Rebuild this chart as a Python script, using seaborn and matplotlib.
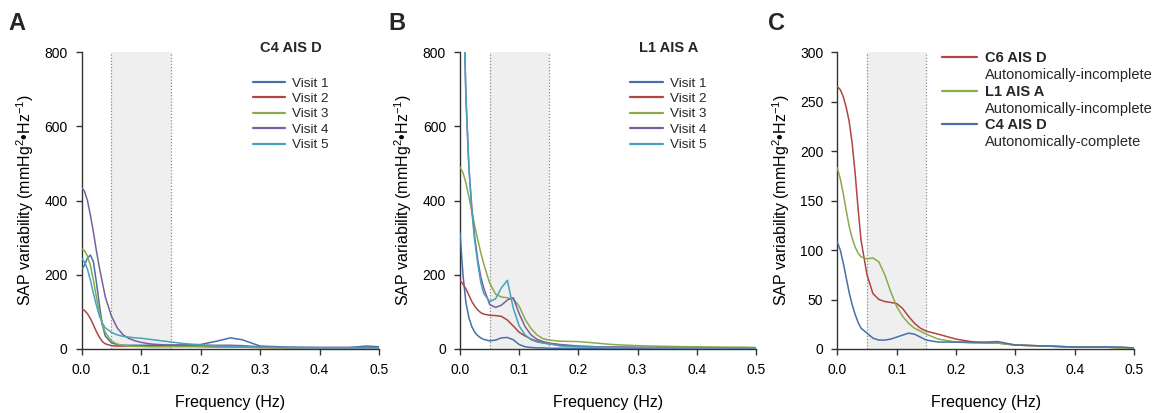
import numpy as np
import pandas as pd
import matplotlib
matplotlib.use("Agg")
import matplotlib.pyplot as plt
from matplotlib.lines import Line2D
import seaborn as sns

# ---------------- data ----------------
freq = [0, .005, .01, .015, .02, .025, .03, .035, .04, .05, .06, .07, .08, .09, .1,
        .11, .12, .13, .14, .15, .17, .2, .23, .25, .27, .3, .35, .4, .45, .48, .5]

visits = ["Visit 1", "Visit 2", "Visit 3", "Visit 4", "Visit 5"]

# Panel A : C4 AIS D
a_v1 = [215, 225, 245, 253, 235, 180, 120, 65, 35, 17, 12, 10, 10, 10, 10, 10, 10, 10, 10, 10, 11, 12, 22, 30, 25, 8, 5, 4, 4, 8, 6]
a_v2 = [108, 104, 95, 82, 65, 47, 32, 20, 14, 9, 8, 8, 8, 8, 8, 8, 8, 8, 8, 8, 8, 7, 6, 5, 5, 4, 3, 3, 3, 3, 3]
a_v3 = [270, 265, 250, 225, 185, 140, 100, 65, 45, 22, 13, 10, 8, 7, 7, 6, 6, 6, 6, 6, 6, 6, 5, 5, 5, 4, 3, 3, 3, 3, 3]
a_v4 = [435, 425, 400, 360, 315, 265, 220, 180, 140, 90, 57, 38, 28, 22, 18, 15, 13, 12, 11, 11, 10, 10, 10, 10, 9, 6, 4, 4, 4, 4, 4]
a_v5 = [245, 235, 215, 185, 150, 118, 90, 70, 57, 45, 38, 34, 32, 30, 29, 27, 25, 23, 21, 19, 15, 11, 8, 7, 6, 5, 4, 3, 3, 3, 3]

# Panel B : L1 AIS A
b_v1 = [313, 200, 125, 85, 60, 45, 36, 30, 26, 22, 24, 30, 31, 25, 12, 6, 4, 3, 3, 2, 2, 2, 2, 2, 2, 2, 2, 2, 2, 2, 2]
b_v2 = [185, 175, 162, 145, 128, 115, 105, 98, 94, 91, 90, 88, 78, 62, 45, 35, 27, 21, 17, 14, 10, 7, 6, 5, 5, 4, 4, 3, 3, 3, 3]
b_v3 = [490, 475, 447, 410, 370, 330, 295, 260, 230, 178, 148, 140, 138, 135, 115, 80, 55, 38, 28, 24, 21, 20, 16, 13, 11, 9, 7, 6, 5, 5, 4]
b_v4 = [1500, 1000, 680, 490, 380, 300, 240, 195, 165, 120, 112, 118, 132, 138, 95, 60, 38, 26, 20, 16, 12, 8, 6, 5, 5, 4, 4, 3, 3, 3, 3]
b_v5 = [1500, 1000, 680, 490, 370, 290, 230, 180, 150, 128, 135, 165, 185, 110, 62, 38, 25, 19, 16, 14, 8, 6, 5, 4, 4, 4, 3, 3, 3, 3, 3]

# Panel C : group comparison
groups = ["C6 AIS D", "L1 AIS A", "C4 AIS D"]
group_desc = ["Autonomically-incomplete", "Autonomically-incomplete", "Autonomically-complete"]
c_c6 = [265, 262, 255, 244, 230, 208, 178, 142, 110, 75, 56, 50, 48, 47, 46, 41, 33, 26, 21, 18, 15, 10, 7, 6, 6, 4, 3, 2, 2, 1, 1]
c_l1 = [183, 172, 157, 140, 124, 112, 103, 97, 93, 91, 92, 88, 75, 58, 43, 33, 26, 21, 18, 15, 10, 7, 6, 6, 6, 4, 3, 2, 2, 1, 1]
c_c4 = [108, 100, 87, 72, 57, 45, 35, 27, 21, 16, 11, 9, 9, 10, 12, 14, 16, 15, 12, 9, 7, 7, 7, 7, 7.5, 4, 3, 2, 2, 2, 1]

band = (0.05, 0.15)
xticks = [0.0, 0.1, 0.2, 0.3, 0.4, 0.5]
yticks_ab = [0, 200, 400, 600, 800]
yticks_c = [0, 50, 100, 150, 200, 250, 300]

visit_colors = ["#4570a8", "#b04542", "#8aaa4c", "#7a5f9e", "#48a2bb"]
group_colors = ["#b04542", "#8aaa4c", "#4570a8"]

# ---------------- style ----------------
sns.set_theme(style="ticks")
plt.rcParams["font.family"] = ["Liberation Sans", "DejaVu Sans"]
plt.rcParams["mathtext.fontset"] = "custom"
plt.rcParams["mathtext.rm"] = "Liberation Sans"
plt.rcParams["mathtext.it"] = "Liberation Sans:italic"
plt.rcParams["mathtext.bf"] = "Liberation Sans:bold"

fig = plt.figure(figsize=(11.58, 4.13), dpi=100)
W, H = 1158, 413
def axes_at(x0, x1, y0=349, y1=52):
    return fig.add_axes([x0 / W, 1 - y0 / H, (x1 - x0) / W, (y0 - y1) / H])

axA = axes_at(81.5, 379)
axB = axes_at(460, 756)
axC = axes_at(837.3, 1134)

def long_df(series, names):
    rows = []
    for name, vals in zip(names, series):
        for f, v in zip(freq, vals):
            rows.append((f, v, name))
    return pd.DataFrame(rows, columns=["freq", "value", "series"])

def style_axes(ax, yticks):
    ax.axvspan(band[0], band[1], color="#efefef", zorder=0, lw=0)
    for b in band:
        ax.axvline(b, color="#8a8a8a", ls=(0, (1, 1.5)), lw=0.9, zorder=0.5)
    ax.set_xlim(0, 0.5)
    ax.set_ylim(yticks[0], yticks[-1])
    ax.set_xticks(xticks)
    ax.set_xticklabels([f"{t:.1f}" for t in xticks])
    ax.set_yticks(yticks)
    ax.set_yticklabels([str(t) for t in yticks])
    for s in ["top", "right"]:
        ax.spines[s].set_visible(False)
    for s in ["left", "bottom"]:
        ax.spines[s].set_color("#333333")
        ax.spines[s].set_linewidth(1.0)
    ax.tick_params(axis="both", direction="out", length=4, width=1.0,
                   color="#333333", labelsize=10, labelcolor="black", pad=6)
    ax.set_xlabel("Frequency (Hz)", fontsize=11.5, labelpad=13, color="black")
    ax.set_ylabel("SAP variability (mmHg$^{2}$\u2022Hz$^{-1}$)", fontsize=11.5,
                  labelpad=6, color="black")
    ax.set_facecolor("none")

def visit_panel(ax, series, title, letter, letter_x):
    df = long_df(series, visits)
    sns.lineplot(data=df, x="freq", y="value", hue="series", hue_order=visits,
                 palette=visit_colors, ax=ax, legend=False, lw=1.1, zorder=3)
    handles = [Line2D([], [], color=c, lw=1.6) for c in visit_colors]
    style_axes(ax, yticks_ab)
    ax.legend(handles, visits, loc="upper left", bbox_to_anchor=(0.575, 0.915),
              frameon=False, fontsize=9.7, handlelength=2.4, handletextpad=0.55,
              labelspacing=0.22, borderaxespad=0, borderpad=0)
    ax.text(0.705, 1.015, title, transform=ax.transAxes, ha="center", va="center",
            fontsize=10.5, fontweight="bold")
    fig.text(letter_x / W, 1 - 23 / H, letter, fontsize=17, fontweight="bold",
             ha="left", va="center")

visit_panel(axA, [a_v1, a_v2, a_v3, a_v4, a_v5], "C4 AIS D", "A", 8)
visit_panel(axB, [b_v1, b_v2, b_v3, b_v4, b_v5], "L1 AIS A", "B", 388)

# Panel C
dfc = long_df([c_c6, c_l1, c_c4], groups)
sns.lineplot(data=dfc, x="freq", y="value", hue="series", hue_order=groups,
             palette=group_colors, ax=axC, legend=False, lw=1.1, zorder=3)
style_axes(axC, yticks_c)
h, l = [], []
for c, g, d in zip(group_colors, groups, group_desc):
    h += [Line2D([], [], color=c, lw=1.6), Line2D([], [], color="none")]
    l += [g, d]
legC = axC.legend(h, l, loc="upper left", bbox_to_anchor=(0.352, 1.004),
                  frameon=False, fontsize=10.5, handlelength=2.4, handletextpad=0.55,
                  labelspacing=0.2, borderaxespad=0, borderpad=0)
for i, t in enumerate(legC.get_texts()):
    if i % 2 == 0:
        t.set_fontweight("bold")
fig.text(768 / W, 1 - 23 / H, "C", fontsize=17, fontweight="bold", ha="left", va="center")

fig.savefig("out.png", dpi=100)
